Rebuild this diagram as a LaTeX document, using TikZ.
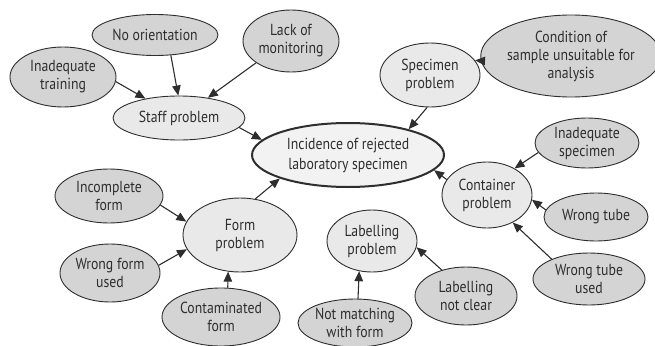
\documentclass[tikz,border=0pt]{standalone}
\usepackage{fontspec}
\newfontfamily\diagfont{PT Sans}[FakeStretch=0.86]
\usetikzlibrary{shapes.geometric,arrows.meta}
\definecolor{leaf}{HTML}{D4D4D4}
\definecolor{mid}{HTML}{E9E9E9}
\definecolor{core}{HTML}{F2F2F2}
\definecolor{ink}{HTML}{2E2E2E}
\tikzset{
  bub/.style={ellipse, draw=ink, line width=0.9pt, inner sep=0pt, align=center,
    text=ink, font=\diagfont\fontsize{16}{18}\selectfont},
  leafbub/.style={bub, fill=leaf},
  midbub/.style={bub, fill=mid},
  corebub/.style={bub, fill=core, line width=2pt, font=\diagfont\fontsize{16}{20}\selectfont},
  arr/.style={draw=ink, line width=1.1pt, -{Triangle[length=10pt,width=8.5pt]}},
  sz/.style 2 args={minimum width=#1pt, minimum height=#2pt},
}
\begin{document}
\begin{tikzpicture}[x=1pt,y=-1pt]
\useasboundingbox[fill=white] (0,0) rectangle (655,345);
\node[leafbub,sz={106}{60}] (train) at (63,77) {Inadequate\\training};
\node[leafbub,sz={126}{41}] (noor) at (155,35) {No orientation};
\node[leafbub,sz={96}{62}] (lack) at (291,41) {Lack of\\monitoring};
\node[midbub,sz={132}{44}] (staff) at (179,118) {Staff problem};
\node[corebub,sz={192}{64}] (inc) at (348,155) {Incidence of rejected\\laboratory specimen};
\node[midbub,sz={100}{64}] (spec) at (430,75) {Specimen\\problem};
\node[leafbub,sz={158}{82}] (cond) at (571,56) {Condition of\\sample unsuitable for\\analysis};
\node[leafbub,sz={104}{50}] (inspec) at (587,143) {Inadequate\\specimen};
\node[midbub,sz={90}{66}] (cont) at (487,195) {Container\\problem};
\node[leafbub,sz={104}{48}] (wtube) at (596,217) {Wrong tube};
\node[leafbub,sz={112}{52}] (wtubeu) at (589,279) {Wrong tube\\used};
\node[midbub,sz={90}{62}] (lab) at (372,241) {Labelling\\problem};
\node[leafbub,sz={102}{58}] (labnc) at (466,296) {Labelling\\not clear};
\node[leafbub,sz={114}{48}] (notm) at (355,323) {Not matching\\with form};
\node[midbub,sz={114}{74}] (form) at (240,235) {Form\\problem};
\node[leafbub,sz={108}{54}] (incf) at (109,196) {Incomplete\\form};
\node[leafbub,sz={100}{58}] (wform) at (110,273) {Wrong form\\used};
\node[leafbub,sz={118}{58}] (contam) at (221,317) {Contaminated\\form};
\draw[arr] (train.-5) -- (staff.150);
\draw[arr] (noor.-52) -- (staff.92);
\draw[arr] (lack.212) -- (staff.35);
\draw[arr] (staff.-9) -- (inc.170);
\draw[arr] (spec.-95) -- (inc.23);
\draw[arr] (cond.183) -- (spec.18);
\draw[arr] (inspec.191) -- (cont.44);
\draw[arr] (cont.159) -- (inc.-10);
\draw[arr] (wtube.172) -- (cont.-6);
\draw[arr] (wtubeu.152) -- (cont.-47);
\draw[arr] (labnc.133) -- (lab.-8);
\draw[arr] (notm.83) -- (lab.-113);
\draw[arr] (form.67) -- (inc.199);
\draw[arr] (incf.-10) -- (form.166);
\draw[arr] (wform.9) -- (form.195);
\draw[arr] (contam.77) -- (form.-108);
\end{tikzpicture}
\end{document}
